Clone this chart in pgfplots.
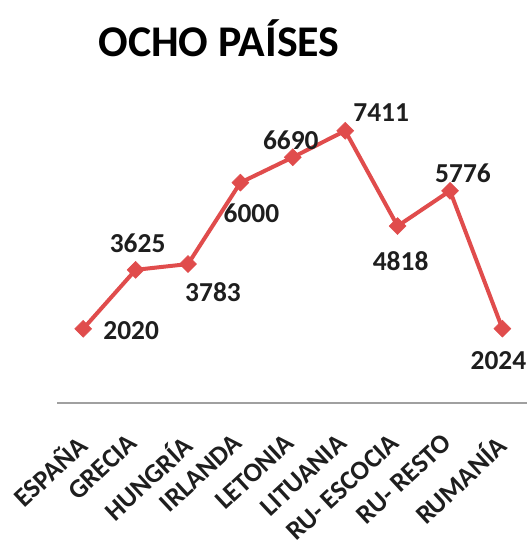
\documentclass[border=0pt]{standalone}
\usepackage{fontspec}
\setmainfont{Carlito}
\usepackage{pgfplots}
\pgfplotsset{compat=1.18}
\definecolor{linered}{RGB}{224,76,76}
\definecolor{txt}{RGB}{30,30,30}
\begin{document}
\begin{tikzpicture}
\useasboundingbox (0,0) rectangle (527bp,-554bp);
\node[font=\bfseries\fontsize{44}{46}\selectfont, text=black] at (219bp,-38bp) {OCHO PAÍSES};
\begin{axis}[
  at={(57bp,-403bp)}, anchor=south west,
  x=52.4bp, y=0.03673bp,
  xmin=-0.5, xmax=8.47, ymin=0, ymax=8000,
  clip=false,
  axis x line=bottom, axis y line=none,
  axis line style={draw={rgb,255:red,160;green,160;blue,160}, line width=1.8bp, -},
  xtick={0,...,8},
  xticklabels={ESPAÑA,GRECIA,HUNGRÍA,IRLANDA,LETONIA,LITUANIA,RU- ESCOCIA,RU- RESTO,RUMANÍA},
  major tick length=0pt,
  xticklabel style={xshift=-9bp, yshift=-29bp, rotate=43, anchor=north east, font=\bfseries\fontsize{27}{29}\selectfont, text=txt, inner sep=0pt},
  ytick=\empty,
  /pgf/number format/.cd, 1000 sep={}, assume math mode=true, /pgfplots/.cd,
  lbl/.style 2 args={draw=none, mark=none, nodes near coords, every node near coord/.append style={font=\bfseries\fontsize{27.5}{30}\selectfont, text=txt, anchor=center, xshift=#1, yshift=#2}},
]
\addplot[color=linered, line width=4bp, mark=square*, mark size=6bp, mark options={rotate=45, fill=linered, draw=linered, line width=0.5bp}]
  coordinates {(0,2020) (1,3625) (2,3783) (3,6000) (4,6690) (5,7411) (6,4818) (7,5776) (8,2024)};
\addplot[lbl={48bp}{-2bp}] coordinates {(0,2020)};
\addplot[lbl={2bp}{27bp}] coordinates {(1,3625)};
\addplot[lbl={25bp}{-28bp}] coordinates {(2,3783)};
\addplot[lbl={11bp}{-31bp}] coordinates {(3,6000)};
\addplot[lbl={-2bp}{17bp}] coordinates {(4,6690)};
\addplot[lbl={36bp}{18bp}] coordinates {(5,7411)};
\addplot[lbl={3bp}{-35bp}] coordinates {(6,4818)};
\addplot[lbl={13bp}{18bp}] coordinates {(7,5776)};
\addplot[lbl={-4bp}{-32bp}] coordinates {(8,2024)};
\end{axis}
\end{tikzpicture}
\end{document}
